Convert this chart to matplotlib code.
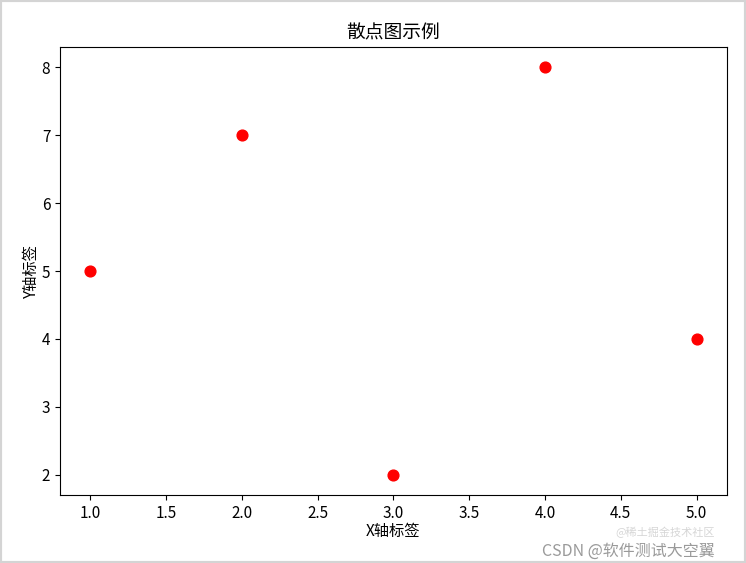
import matplotlib
matplotlib.use("Agg")
import matplotlib.pyplot as plt
from matplotlib.patches import Rectangle

plt.rcParams['font.family'] = ['Noto Sans CJK SC', 'DejaVu Sans']
plt.rcParams['axes.unicode_minus'] = False

# data
x = [1, 2, 3, 4, 5]
y = [5, 7, 2, 8, 4]

fig = plt.figure(figsize=(7.46, 5.63), dpi=100)
ax = fig.add_axes([0.0804, 0.1208, 0.894, 0.7957])

ax.scatter(x, y, color='red', s=60)
ax.set_title("散点图示例", fontsize=13.5)
ax.set_xlabel("X轴标签", fontsize=11, labelpad=1)
ax.set_ylabel("Y轴标签", fontsize=11, labelpad=1)
ax.tick_params(labelsize=11)

# watermark bottom right
fig.text(0.958, 0.048, "@稀土掘金技术社区", color='#cccccc', fontsize=8, ha='right', alpha=0.8)
fig.text(0.958, 0.012, "CSDN @软件测试大空翼", color='#9a9a9a', fontsize=11.5, ha='right')

# light frame round the screenshot
fig.patches.append(Rectangle((0, 0), 1, 1, transform=fig.transFigure, fill=False,
                             edgecolor='#d4d4d4', linewidth=3))

fig.savefig("out.png", dpi=100)
